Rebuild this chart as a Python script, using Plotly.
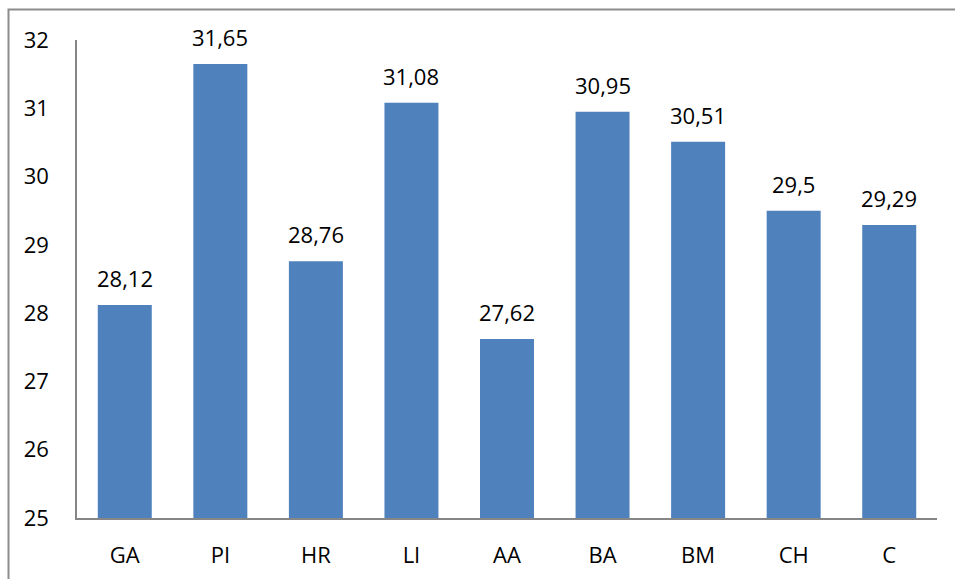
import plotly.graph_objects as go

categories = ["GA", "PI", "HR", "LI", "AA", "BA", "BM", "CH", "C"]
values = [28.12, 31.65, 28.76, 31.08, 27.62, 30.95, 30.51, 29.5, 29.29]
value_labels = ["28,12", "31,65", "28,76", "31,08", "27,62", "30,95", "30,51", "29,5", "29,29"]
y_ticks = [25, 26, 27, 28, 29, 30, 31, 32]

FONT = "Open Sans"
FONT_SIZE = 22
BAR_COLOR = "#4F81BD"
AXIS_COLOR = "#868686"

fig = go.Figure(
    go.Bar(
        x=categories,
        y=values,
        marker=dict(color=BAR_COLOR, line=dict(width=0)),
        hoverinfo="x+y",
    )
)

# value labels above each bar
for cat, val, lab in zip(categories, values, value_labels):
    fig.add_annotation(
        x=cat, y=val, text=lab, showarrow=False,
        yanchor="bottom", yshift=10,
        font=dict(family=FONT, size=FONT_SIZE, color="#000000"),
    )

W, H = 955, 579
ml, mr, mt, mb = 77, 18, 40, 61
pw, ph = W - ml - mr, H - mt - mb

def px_to_paper_x(px):
    return (px - ml) / pw

def px_to_paper_y(py):
    return (H - mb - py) / ph

# outer chart frame
fig.add_shape(
    type="rect", xref="paper", yref="paper",
    x0=px_to_paper_x(8.5), x1=px_to_paper_x(965),
    y0=px_to_paper_y(590), y1=px_to_paper_y(9.5),
    line=dict(color="#8c8c8c", width=2), fillcolor="rgba(0,0,0,0)",
    layer="below",
)

fig.update_layout(
    width=W, height=H,
    margin=dict(l=ml, r=mr, t=mt, b=mb),
    paper_bgcolor="white", plot_bgcolor="white",
    bargap=0.435,
    showlegend=False,
    font=dict(family=FONT, size=FONT_SIZE, color="#000000"),
    xaxis=dict(
        showline=True, linecolor=AXIS_COLOR, linewidth=2,
        showgrid=False, ticks="", ticklabelstandoff=17,
        tickfont=dict(family=FONT, size=FONT_SIZE),
        automargin=False, fixedrange=True,
    ),
    yaxis=dict(
        range=[25, 32], tickvals=y_ticks, ticktext=[str(t) for t in y_ticks],
        showline=True, linecolor=AXIS_COLOR, linewidth=1.5,
        showgrid=False, zeroline=False, ticks="", ticklabelstandoff=22,
        tickfont=dict(family=FONT, size=FONT_SIZE),
        automargin=False, fixedrange=True,
    ),
)

fig.write_html("out.html")
